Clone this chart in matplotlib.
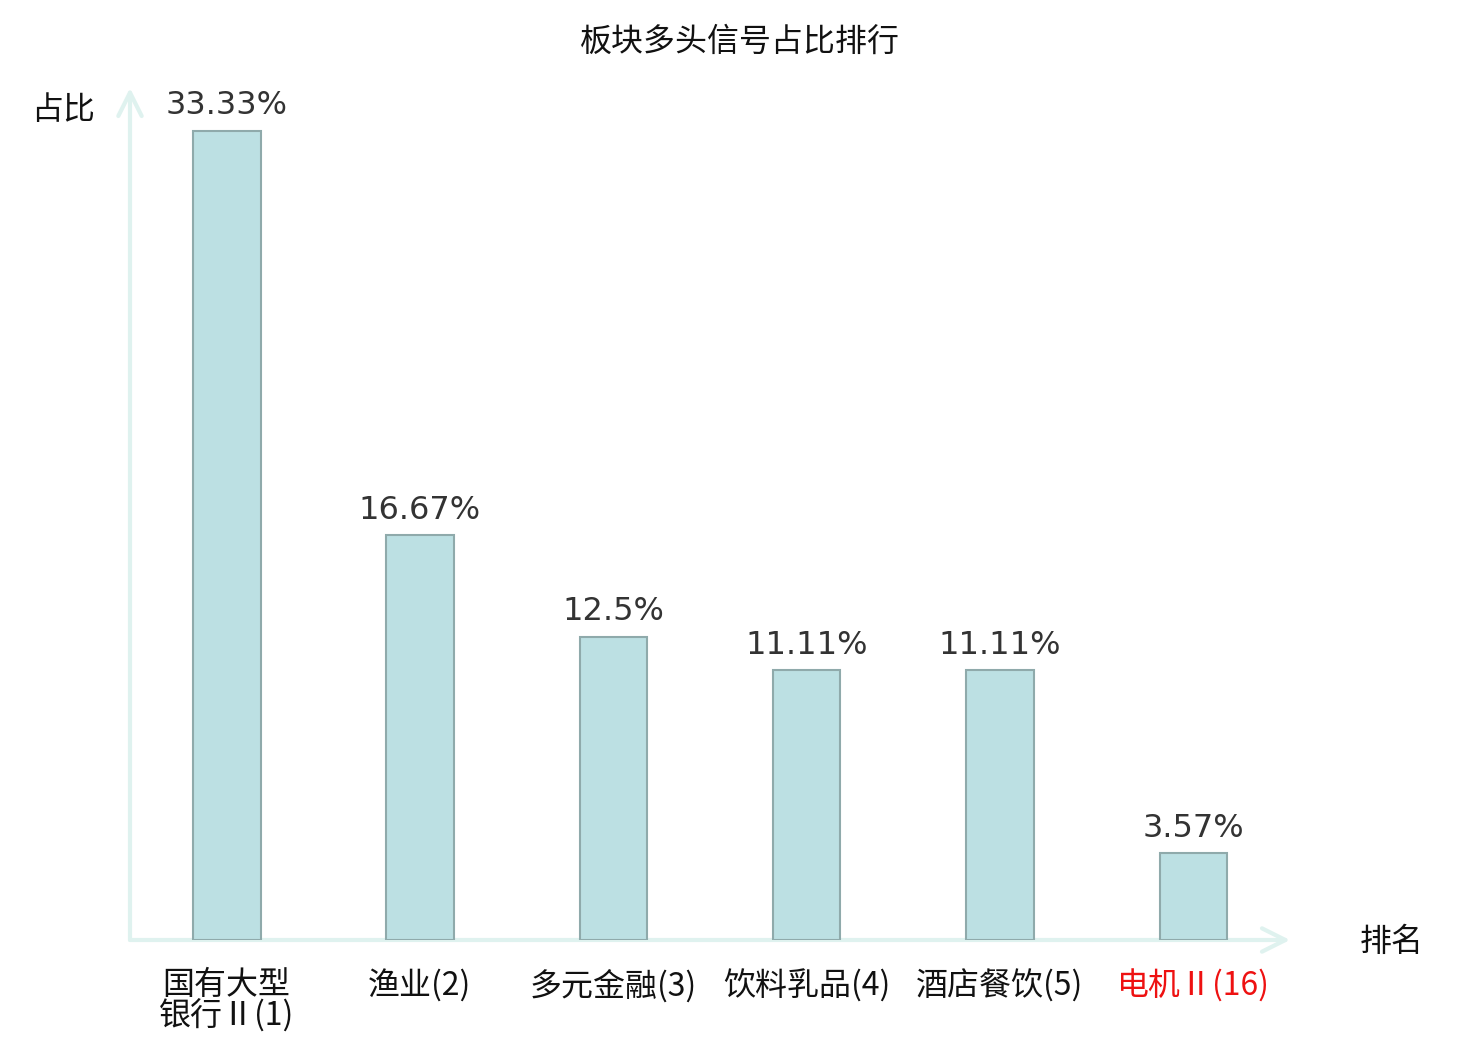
import matplotlib.pyplot as plt

plt.rcParams['font.family'] = ['Noto Sans CJK SC', 'DejaVu Sans']

# data
sectors = ['国有大型\n银行Ⅱ(1)', '渔业(2)', '多元金融(3)', '饮料乳品(4)', '酒店餐饮(5)', '电机Ⅱ(16)']
shares = [33.33, 16.67, 12.5, 11.11, 11.11, 3.57]
share_labels = ['33.33%', '16.67%', '12.5%', '11.11%', '11.11%', '3.57%']
label_colors = ['#111111', '#111111', '#111111', '#111111', '#111111', '#ee1111']

title = '板块多头信号占比排行'
x_name = '排名'
y_name = '占比'

W, H = 1480, 1040
fig = plt.figure(figsize=(W / 100, H / 100), dpi=100)
# axes box in pixels: origin at (130, 940), top at 88, right at 1290
ax = fig.add_axes([130 / W, (H - 940) / H, (1290 - 130) / W, (940 - 88) / H])

xs = list(range(len(sectors)))
ax.bar(xs, shares, width=0.35, color='#bce0e3', edgecolor='#8faaab', linewidth=1.5, zorder=3)

for x, v, s in zip(xs, shares, share_labels):
    ax.annotate(s, (x, v), xytext=(0, 7), textcoords='offset points',
                ha='center', va='bottom', fontsize=23, color='#333333',
                family='DejaVu Sans')

ax.set_xlim(-0.5, 5.5)
ax.set_ylim(0, 35.1)
ax.set_yticks([])
ax.set_xticks(xs)
ax.set_xticklabels(sectors, fontsize=23, linespacing=0.95)
for lbl, c in zip(ax.get_xticklabels(), label_colors):
    lbl.set_color(c)
ax.tick_params(axis='x', length=0, pad=21)
for sp in ax.spines.values():
    sp.set_visible(False)

axis_color = '#dff2ef'
ax.annotate('', xy=(1, 0), xytext=(0, 0), xycoords='axes fraction',
            arrowprops=dict(arrowstyle='->', color=axis_color, lw=3,
                            mutation_scale=42, shrinkA=0, shrinkB=0), zorder=1)
ax.annotate('', xy=(0, 1), xytext=(0, 0), xycoords='axes fraction',
            arrowprops=dict(arrowstyle='->', color=axis_color, lw=3,
                            mutation_scale=42, shrinkA=0, shrinkB=0), zorder=1)

fig.text(1392 / W, 1 - 942 / H, x_name, ha='center', va='center', fontsize=23, color='#111111')
fig.text(63 / W, 1 - 110 / H, y_name, ha='center', va='center', fontsize=23, color='#111111')
fig.text(740 / W, 1 - 42 / H, title, ha='center', va='center', fontsize=23, color='#111111')

fig.savefig('out.png', dpi=100)
